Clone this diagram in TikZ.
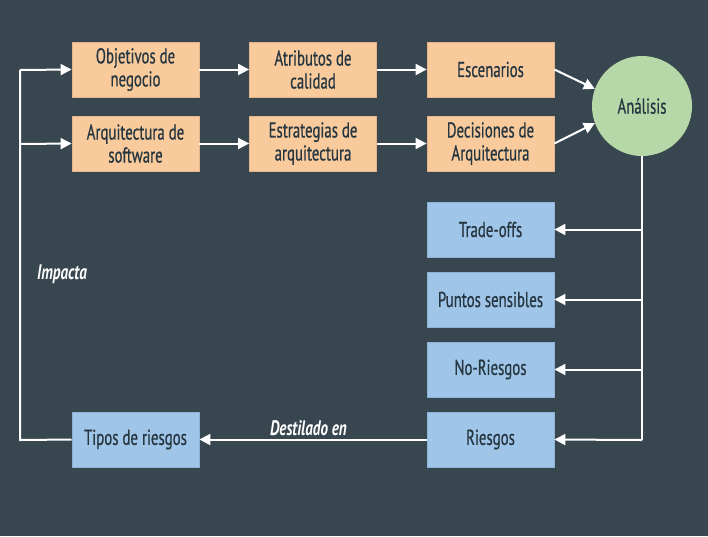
\documentclass[tikz,border=0pt]{standalone}
\usepackage{fontspec}
\setmainfont{PT Sans}[FakeStretch=0.69,FakeBold=0.6]
\newfontfamily\labfont{PT Sans}[FakeStretch=0.72]
\usetikzlibrary{arrows.meta,calc}
\definecolor{bg}{HTML}{37464F}
\definecolor{peach}{HTML}{F9CB9C}
\definecolor{peachd}{HTML}{E6B48A}
\definecolor{lblue}{HTML}{9FC5E8}
\definecolor{lblued}{HTML}{8DB3D6}
\definecolor{lgreen}{HTML}{B6D7A8}
\definecolor{txt}{HTML}{263640}
\tikzset{
  x=1pt,y=-1pt,
  box/.style={minimum width=127pt,minimum height=55pt,inner sep=0pt,align=center,
    font=\fontsize{21.5}{23}\selectfont,text=txt,line width=0.8pt},
  obox/.style={box,fill=peach,draw=peachd},
  bbox/.style={box,fill=lblue,draw=lblued},
  conn/.style={draw=white,line width=2pt,-{Triangle[length=11pt,width=11pt]}},
  line/.style={draw=white,line width=2pt},
  lab/.style={text=white,font=\labfont\fontsize{21}{23}\selectfont\bfseries\itshape}
}
\begin{document}
\begin{tikzpicture}
\fill[bg] (0,0) rectangle (708,536);
\useasboundingbox (0,0) rectangle (708,536);
\node[obox] (obj) at (135.5,69.5) {Objetivos de\\negocio};
\node[obox] (atr) at (313,69.5) {Atributos de\\calidad};
\node[obox] (esc) at (490.5,69.5) {Escenarios};
\node[obox] (arq) at (135.5,143.5) {Arquitectura de\\software};
\node[obox] (est) at (313,143.5) {Estrategias de\\arquitectura};
\node[obox] (dec) at (490.5,143.5) {Decisiones de\\Arquitectura};
\node[circle,fill=lgreen,minimum size=100pt,inner sep=0pt,text=txt,font=\fontsize{21.5}{23}\selectfont] (ana) at (642,106) {Análisis};
\node[bbox] (tra) at (490.5,229.5) {Trade-offs};
\node[bbox] (pun) at (490.5,299.5) {Puntos sensibles};
\node[bbox] (nor) at (490.5,369.5) {No-Riesgos};
\node[bbox] (rie) at (490.5,439.5) {Riesgos};
\node[bbox] (tip) at (135.5,439.5) {Tipos de riesgos};
\coordinate (c1) at (642,440);
\coordinate (lb) at (20,440);
\coordinate (lt) at (20,70);
\coordinate (lm) at (20,144);
\draw[conn] (obj) -- (atr);
\draw[conn] (atr) -- (esc);
\draw[conn] (arq) -- (est);
\draw[conn] (est) -- (dec);
\draw[conn] (esc.east) -- (ana.160);
\draw[conn] (dec.east) -- (ana.200);
\draw[line] (ana.south) -- (c1);
\draw[conn] (tra.east -| ana.south) -- (tra.east);
\draw[conn] (pun.east -| ana.south) -- (pun.east);
\draw[conn] (nor.east -| ana.south) -- (nor.east);
\draw[conn] (c1) -- (rie.east);
\draw[conn] (rie) -- node[lab,above=-1pt,pos=0.52] {Destilado en} (tip);
\draw[line] (tip.west) -- (lb) -- (lt);
\draw[conn] (lt) -- (obj.west);
\draw[conn] (lm) -- (arq.west);
\node[lab] (imp) at (62,274) {Impacta};
\end{tikzpicture}
\end{document}
